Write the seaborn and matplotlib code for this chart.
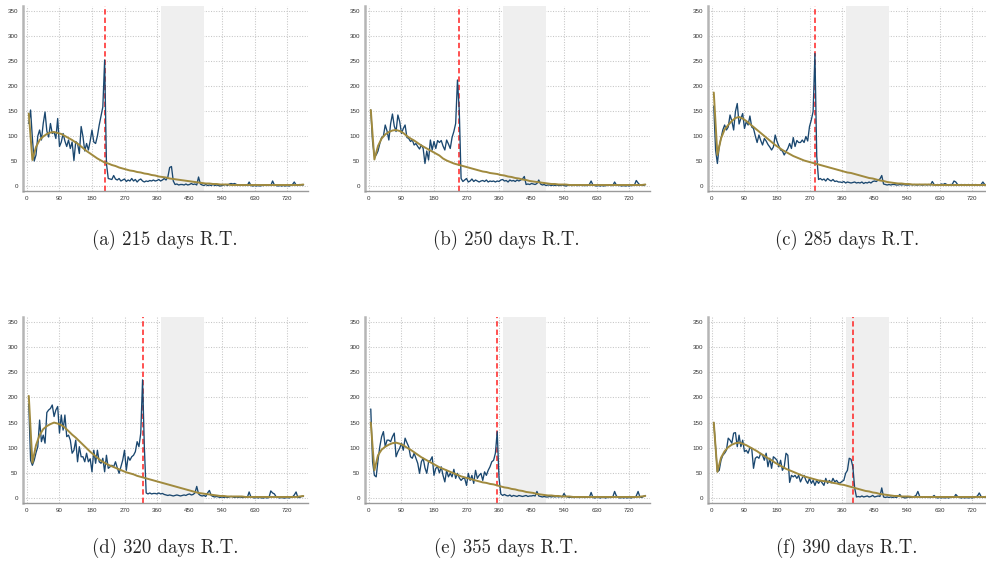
import numpy as np
import pandas as pd
import matplotlib
matplotlib.use("Agg")
import matplotlib.pyplot as plt
import seaborn as sns

# ---------------- data ----------------
cutoffs = [215, 250, 285, 320, 355, 390]
captions = ["(a) 215 days R.T.", "(b) 250 days R.T.", "(c) 285 days R.T.",
            "(d) 320 days R.T.", "(e) 355 days R.T.", "(f) 390 days R.T."]
xticks = [0, 90, 180, 270, 360, 450, 540, 630, 720]
yticks = [0, 50, 100, 150, 200, 250, 300, 350]
band = [372, 489]

# observed series, one value every 5 days starting at day 5
blue_a = [125, 152, 95, 50, 62, 100, 112, 92, 125, 148,
          110, 98, 125, 105, 108, 95, 135, 79, 88, 105,
          90, 79, 92, 75, 88, 51, 89, 85, 65, 119,
          99, 70, 85, 72, 90, 112, 88, 85, 100, 122,
          140, 158, 252, 45, 15, 14, 13, 21, 14, 12,
          15, 10, 12, 14, 9, 12, 10, 15, 10, 13,
          8, 12, 14, 10, 8, 10, 9, 11, 10, 12,
          10, 11, 13, 10, 12, 15, 12, 18, 37, 39,
          10, 3, 4, 2, 3, 3, 2, 4, 2, 3,
          5, 3, 4, 2, 18, 4, 2, 1, 3, 1,
          2, 1, 3, 1, 2, 1, 0, 1, 2, 3,
          1, 4, 5, 4, 5, 3, 2, 1, 2, 1,
          2, 1, 8, 1, 0, 1, 0, 1, 0, 1,
          1, 2, 1, 2, 1, 10, 2, 1, 0, 1,
          0, 1, 0, 1, 0, 1, 3, 8, 2, 1,
          3, 2, 2]
blue_b = [152, 88, 60, 62, 70, 85, 97, 100, 122, 110,
          92, 125, 144, 120, 109, 142, 129, 105, 115, 122,
          97, 95, 89, 92, 82, 85, 79, 74, 82, 75,
          45, 70, 52, 92, 72, 89, 75, 91, 87, 91,
          80, 72, 92, 84, 75, 97, 109, 125, 212, 150,
          15, 9, 12, 15, 8, 10, 14, 9, 12, 10,
          8, 10, 11, 9, 12, 8, 10, 9, 10, 8,
          10, 9, 12, 13, 10, 11, 8, 12, 10, 11,
          9, 12, 10, 12, 14, 19, 3, 4, 3, 5,
          4, 3, 5, 12, 4, 2, 3, 1, 2, 2,
          1, 2, 1, 2, 1, 1, 2, 1, 0, 1,
          2, 1, 1, 2, 1, 1, 2, 1, 1, 1,
          1, 3, 10, 2, 1, 0, 1, 0, 1, 0,
          1, 1, 2, 1, 1, 8, 2, 1, 1, 0,
          1, 0, 1, 0, 1, 1, 2, 11, 6, 2,
          2, 1, 3]
blue_c = [160, 72, 45, 79, 95, 112, 122, 112, 118, 142,
          130, 112, 149, 165, 124, 135, 145, 115, 129, 122,
          140, 118, 115, 100, 87, 102, 91, 82, 95, 90,
          83, 78, 72, 78, 102, 89, 80, 72, 70, 62,
          69, 75, 85, 75, 97, 79, 91, 87, 87, 92,
          87, 99, 90, 119, 132, 149, 265, 60, 13, 15,
          12, 14, 10, 15, 12, 10, 13, 9, 10, 8,
          8, 7, 9, 6, 8, 7, 6, 7, 8, 6,
          7, 6, 8, 5, 7, 6, 8, 6, 9, 10,
          9, 12, 14, 21, 4, 3, 2, 3, 2, 3,
          3, 2, 2, 3, 2, 3, 2, 2, 2, 3,
          2, 3, 2, 2, 3, 2, 2, 3, 2, 3,
          2, 9, 3, 2, 3, 2, 4, 3, 5, 3,
          2, 3, 3, 10, 8, 3, 2, 3, 2, 3,
          2, 3, 2, 3, 2, 3, 2, 2, 3, 8,
          3, 2, 2]
blue_d = [187, 75, 65, 75, 90, 102, 155, 112, 125, 109,
          170, 175, 178, 185, 162, 175, 182, 129, 165, 135,
          165, 122, 125, 115, 89, 95, 115, 72, 102, 82,
          82, 72, 89, 72, 78, 52, 95, 69, 95, 72,
          69, 79, 52, 85, 59, 62, 65, 62, 72, 60,
          49, 62, 75, 95, 55, 82, 75, 82, 85, 92,
          112, 102, 129, 235, 100, 10, 8, 10, 8, 9,
          9, 8, 10, 8, 9, 7, 6, 5, 6, 5,
          4, 5, 6, 5, 4, 5, 6, 5, 7, 8,
          6, 7, 10, 23, 8, 5, 4, 5, 3, 10,
          15, 5, 3, 2, 3, 2, 1, 2, 1, 2,
          1, 2, 3, 2, 1, 2, 1, 2, 1, 1,
          2, 1, 12, 2, 1, 0, 1, 0, 1, 0,
          0, 1, 0, 1, 14, 10, 8, 2, 1, 0,
          1, 0, 0, 1, 0, 1, 2, 6, 12, 1,
          1, 3, 3]
blue_e = [177, 72, 45, 42, 75, 102, 122, 132, 102, 115,
          115, 112, 122, 129, 82, 92, 99, 109, 95, 119,
          110, 102, 82, 79, 89, 79, 69, 49, 72, 79,
          60, 49, 72, 75, 82, 45, 59, 62, 50, 62,
          45, 32, 55, 42, 49, 42, 57, 39, 49, 40,
          35, 39, 39, 25, 49, 35, 45, 29, 55, 39,
          45, 49, 35, 52, 45, 55, 62, 72, 75, 89,
          132, 40, 8, 5, 7, 5, 4, 6, 3, 5,
          4, 3, 5, 4, 3, 4, 5, 3, 4, 4,
          5, 4, 13, 4, 3, 2, 3, 2, 2, 3,
          2, 3, 2, 3, 2, 3, 2, 9, 3, 2,
          1, 2, 1, 1, 2, 1, 1, 2, 1, 1,
          2, 1, 11, 1, 0, 1, 1, 0, 1, 1,
          0, 1, 1, 1, 2, 13, 4, 1, 0, 1,
          0, 1, 0, 1, 0, 1, 1, 4, 13, 2,
          1, 3, 5]
blue_f = [150, 100, 52, 55, 75, 85, 89, 95, 119, 115,
          109, 129, 130, 102, 125, 102, 115, 92, 95, 89,
          100, 99, 59, 79, 82, 79, 89, 85, 75, 89,
          62, 79, 59, 82, 79, 75, 62, 75, 55, 62,
          89, 85, 31, 45, 42, 45, 39, 45, 32, 40,
          45, 35, 29, 39, 29, 35, 25, 35, 29, 35,
          30, 25, 39, 29, 35, 30, 39, 32, 35, 30,
          30, 33, 35, 49, 55, 79, 77, 62, 20, 2,
          3, 2, 4, 2, 3, 4, 2, 3, 5, 2,
          3, 4, 3, 20, 2, 1, 2, 1, 2, 1,
          2, 1, 3, 7, 2, 1, 0, 1, 2, 1,
          2, 3, 5, 13, 3, 1, 2, 1, 2, 1,
          1, 2, 5, 1, 0, 1, 0, 1, 0, 1,
          0, 1, 2, 1, 7, 3, 1, 0, 1, 0,
          1, 0, 1, 0, 1, 2, 4, 10, 3, 1,
          2, 1, 2]

# fitted (counterfactual) series, one value every 10 days starting at day 5
gold_a = [145, 52, 78, 92, 99, 104, 107, 108, 106, 104,
          100, 96, 92, 87, 82, 76, 70, 65, 60, 55,
          51, 47, 45, 42, 40, 37, 35, 33, 31, 30,
          28, 27, 25, 24, 22, 21, 19, 18, 17, 15,
          14, 13, 12, 11, 10, 9, 8, 7, 6, 5,
          5, 4, 4, 3, 3, 3, 2, 2, 2, 2,
          2, 2, 2, 2, 2, 2, 2, 2, 2, 2,
          2, 2, 2, 2, 2, 2, 3]
gold_b = [152, 53, 80, 95, 103, 108, 111, 112, 110, 106,
          100, 95, 91, 86, 81, 77, 73, 69, 65, 61,
          55, 51, 48, 45, 43, 41, 39, 37, 35, 33,
          31, 29, 28, 26, 25, 24, 22, 21, 19, 18,
          16, 15, 13, 12, 10, 9, 8, 7, 6, 5,
          4, 4, 3, 3, 3, 2, 2, 2, 2, 2,
          2, 2, 2, 2, 2, 2, 2, 2, 2, 2,
          2, 2, 2, 2, 2, 2, 3]
gold_c = [187, 62, 95, 113, 122, 130, 136, 138, 135, 130,
          124, 118, 112, 106, 100, 94, 88, 82, 77, 72,
          68, 64, 60, 57, 54, 51, 49, 47, 45, 43,
          41, 39, 37, 35, 33, 31, 29, 27, 26, 24,
          22, 20, 18, 16, 15, 13, 11, 10, 8, 7,
          6, 5, 5, 4, 4, 3, 3, 3, 3, 3,
          3, 2, 2, 2, 2, 2, 2, 2, 2, 2,
          2, 2, 2, 2, 2, 2, 3]
gold_d = [203, 70, 105, 125, 137, 143, 147, 150, 148, 145,
          140, 133, 126, 120, 113, 106, 99, 92, 86, 80,
          74, 70, 66, 63, 60, 57, 54, 51, 49, 47,
          44, 42, 40, 38, 36, 34, 32, 30, 28, 26,
          24, 22, 20, 18, 16, 14, 12, 10, 9, 8,
          7, 6, 5, 4, 4, 3, 3, 3, 3, 3,
          2, 2, 2, 2, 2, 2, 2, 2, 2, 2,
          2, 2, 2, 2, 2, 3, 4]
gold_e = [150, 55, 85, 96, 102, 106, 109, 110, 108, 105,
          100, 96, 91, 86, 81, 77, 73, 69, 65, 61,
          58, 55, 52, 49, 46, 43, 41, 39, 37, 35,
          33, 31, 30, 28, 27, 25, 23, 21, 20, 18,
          17, 15, 14, 12, 11, 10, 8, 7, 6, 5,
          5, 4, 4, 3, 3, 3, 2, 2, 2, 2,
          2, 2, 2, 2, 2, 2, 2, 2, 2, 2,
          2, 2, 2, 2, 2, 3, 4]
gold_f = [150, 52, 80, 93, 101, 106, 109, 110, 108, 105,
          101, 97, 93, 88, 84, 79, 75, 70, 66, 62,
          58, 55, 52, 49, 46, 43, 41, 39, 37, 35,
          34, 33, 32, 30, 29, 27, 26, 24, 22, 20,
          18, 16, 14, 13, 11, 10, 8, 7, 6, 5,
          4, 4, 3, 3, 3, 2, 2, 2, 2, 2,
          2, 2, 2, 2, 2, 2, 2, 2, 2, 2,
          2, 2, 2, 2, 2, 2, 3]

blues = [blue_a, blue_b, blue_c, blue_d, blue_e, blue_f]
golds = [gold_a, gold_b, gold_c, gold_d, gold_e, gold_f]

# ---------------- style ----------------
NAVY = "#1a476f"
GOLD = "#a08a3e"
RED = "#ff2222"

sns.set_style("white")
plt.rcParams["font.family"] = ["Liberation Sans", "DejaVu Sans"]

W, H = 987, 565
fig = plt.figure(figsize=(W / 100, H / 100), dpi=100)

lefts = [23, 365, 708]
rows = [(6, 191), (317, 503)]
caption_x = [165, 506, 847]
caption_y = [240, 548]

for i in range(6):
    r, c = divmod(i, 3)
    top, bot = rows[r]
    left = lefts[c]
    ax = fig.add_axes([left / W, 1 - bot / H, 285 / W, (bot - top) / H])

    b = blues[i]
    g = golds[i]
    df_b = pd.DataFrame({"day": 5 + 5 * np.arange(len(b)), "n": b})
    df_g = pd.DataFrame({"day": 5 + 10 * np.arange(len(g)), "n": g})

    ax.axvspan(band[0], band[1], color="#efefef", lw=0, zorder=0.8)
    ax.axvline(cutoffs[i], color=RED, lw=1.1, ls=(0, (3.5, 2)), zorder=1.5)
    sns.lineplot(data=df_b, x="day", y="n", ax=ax, color=NAVY, lw=0.95, zorder=2)
    sns.lineplot(data=df_g, x="day", y="n", ax=ax, color=GOLD, lw=1.4, zorder=2.1)

    ax.set_xlim(-11, 778)
    ax.set_ylim(-10, 360)
    ax.set_xticks(xticks)
    ax.set_yticks(yticks)
    ax.set_xlabel("")
    ax.set_ylabel("")
    ax.set_axisbelow(True)
    ax.grid(True, ls=(0, (1, 1.5)), color="#c6c6c6", lw=0.75)
    for s in ["top", "right"]:
        ax.spines[s].set_visible(False)
    ax.spines["left"].set_color("#b5b5b5")
    ax.spines["left"].set_linewidth(1.8)
    ax.spines["bottom"].set_color("#9a9a9a")
    ax.spines["bottom"].set_linewidth(1.0)
    ax.tick_params(axis="both", labelsize=4.5, length=2, width=0.6,
                   color="#777777", labelcolor="#333333", pad=1.5)

    fig.text(caption_x[c] / W, 1 - caption_y[r] / H, captions[i],
             ha="center", va="center", fontsize=13.5, family="cmr10")

fig.savefig("out.png", dpi=100)
